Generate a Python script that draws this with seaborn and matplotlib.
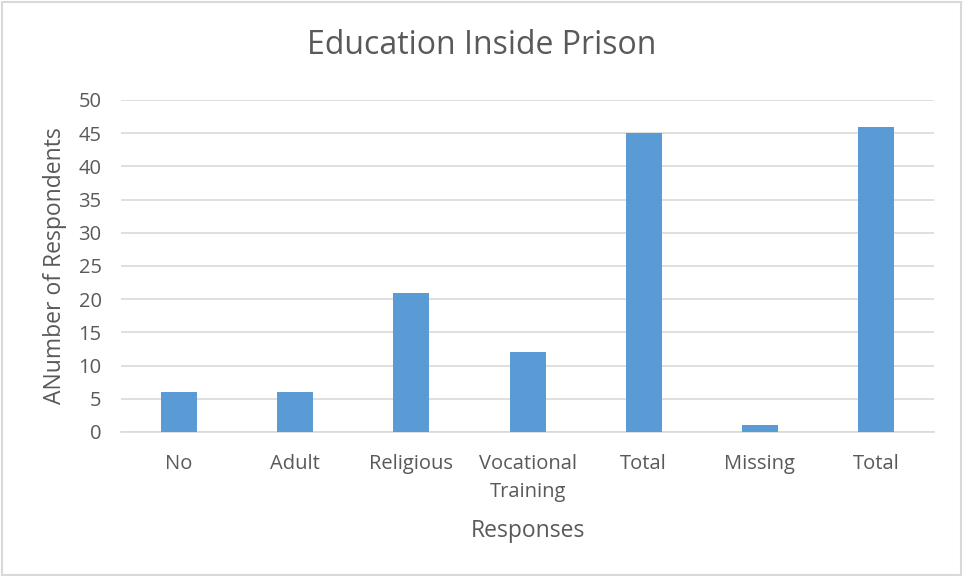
import matplotlib
matplotlib.use("Agg")
import matplotlib.pyplot as plt
from matplotlib.patches import Rectangle
import seaborn as sns
import pandas as pd

# Survey responses about education received while in prison
categories = ["No", "Adult", "Religious", "Vocational\nTraining", "Total", "Missing", "Total"]
respondents = [6, 6, 21, 12, 45, 1, 46]
y_ticks = [0, 5, 10, 15, 20, 25, 30, 35, 40, 45, 50]

bar_color = "#5B9BD5"
text_color = "#595959"
grid_color = "#D9D9D9"

sns.set_theme(style="white")
plt.rcParams["font.family"] = ["Open Sans", "DejaVu Sans"]

# "Total" appears twice, so bars are positioned by index and labelled afterwards
df = pd.DataFrame({"pos": list(range(len(categories))), "count": respondents})

fig = plt.figure(figsize=(9.63, 5.77), dpi=100)
ax = fig.add_axes([0.1257, 0.2513, 0.8443, 0.5754])

sns.barplot(data=df, x="pos", y="count", color=bar_color, width=0.31,
            saturation=1, ax=ax, zorder=3, linewidth=0)

ax.set_ylim(0, 50)
ax.set_xlim(-0.5, len(categories) - 0.5)
ax.set_yticks(y_ticks)
ax.set_xticks(range(len(categories)))
ax.set_xticklabels(categories, fontsize=14.5, color=text_color, linespacing=1.55)
ax.tick_params(axis="y", labelsize=14.5, labelcolor=text_color, length=0, pad=14)
ax.tick_params(axis="x", length=0, pad=16)
for lab in ax.get_xticklabels():
    lab.set_verticalalignment("top")

ax.yaxis.grid(True, color=grid_color, linewidth=1.2, zorder=0)
ax.set_axisbelow(True)
for side in ["left", "right", "top"]:
    ax.spines[side].set_visible(False)
ax.spines["bottom"].set_color(grid_color)
ax.spines["bottom"].set_linewidth(1.2)

ax.set_xlabel("Responses", fontsize=16.5, color=text_color, labelpad=12)
ax.set_ylabel("ANumber of Respondents", fontsize=16.5, color=text_color, labelpad=8)
fig.text(0.5, 0.921, "Education Inside Prison", ha="center", va="center",
         fontsize=23, color=text_color)

# light border around the whole chart area
fig.patches.append(Rectangle((0.002, 0.003), 0.996, 0.994, transform=fig.transFigure,
                             fill=False, edgecolor=grid_color, linewidth=1.5))

fig.savefig("out.png", dpi=100)
